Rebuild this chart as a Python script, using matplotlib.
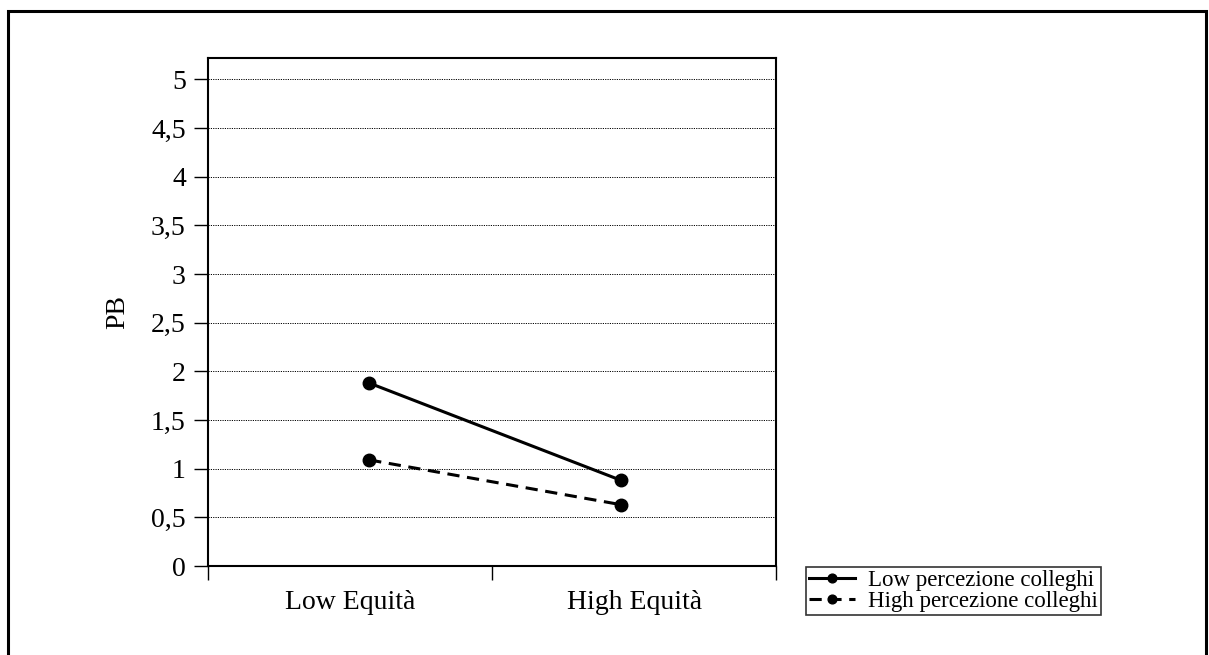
import matplotlib
matplotlib.use('Agg')
import matplotlib.pyplot as plt
from matplotlib.patches import Rectangle
from matplotlib.ticker import FixedLocator

plt.rcParams['font.family'] = ['Liberation Serif', 'DejaVu Serif']

categories = ['Low Equità', 'High Equità']
low_perc = [1.88, 0.88]
high_perc = [1.09, 0.63]
series_names = ['Low percezione colleghi', 'High percezione colleghi']
yticks = [0, 0.5, 1, 1.5, 2, 2.5, 3, 3.5, 4, 4.5, 5]
ytick_labels = ['0', '0,5', '1', '1,5', '2', '2,5', '3', '3,5', '4', '4,5', '5']

fig = plt.figure(figsize=(12.09, 6.55), dpi=100)

# outer frame of the chart area (bottom edge falls outside the picture)
fig.patches.append(Rectangle((8 / 1209, -0.05), 1198 / 1209, 1.05 - 11 / 655,
                             transform=fig.transFigure, fill=False,
                             edgecolor='black', linewidth=2.2))

ax = fig.add_axes([208 / 1209, 1 - 566 / 655, 568 / 1209, 508 / 655])

x = list(range(len(categories)))
ax.plot(x, low_perc, color='black', linestyle='-', linewidth=2.2,
        marker='o', markersize=9, label=series_names[0])
ax.plot(x, high_perc, color='black', linestyle=(0, (4, 2.5)), linewidth=2.2,
        marker='o', markersize=9, label=series_names[1])

ax.set_xlim(-0.64, 1.615)
ax.set_ylim(0, 5.22)

# category boundaries as major ticks, labels at category centres
ax.xaxis.set_major_locator(FixedLocator([-0.64, 0.4875, 1.615]))
ax.set_xticklabels([])
ax.xaxis.set_minor_locator(FixedLocator([-0.075, 1.052]))
ax.set_xticklabels(categories, minor=True)
ax.tick_params(axis='x', which='major', direction='out', length=10, width=1)
ax.tick_params(axis='x', which='minor', length=0, labelsize=20, pad=17)

ax.set_yticks(yticks)
ax.set_yticklabels(ytick_labels)
ax.tick_params(axis='y', direction='out', length=10, width=1, labelsize=20, pad=6)

ax.yaxis.grid(True, linestyle=(0, (1.2, 1.2)), color='black', linewidth=0.7)
ax.set_axisbelow(True)
for s in ax.spines.values():
    s.set_linewidth(1.5)

ax.set_ylabel('PB', fontsize=20, labelpad=15)

leg = fig.legend(loc='center left', bbox_to_anchor=(806 / 1209, 1 - 591 / 655),
                 fontsize=16.5, frameon=True, fancybox=False, edgecolor='black',
                 handlelength=2.0, handletextpad=0.55, borderpad=0.15,
                 labelspacing=0.0, markerscale=0.7, borderaxespad=0)
leg.get_frame().set_linewidth(1.2)

fig.savefig('out.png', dpi=100)
